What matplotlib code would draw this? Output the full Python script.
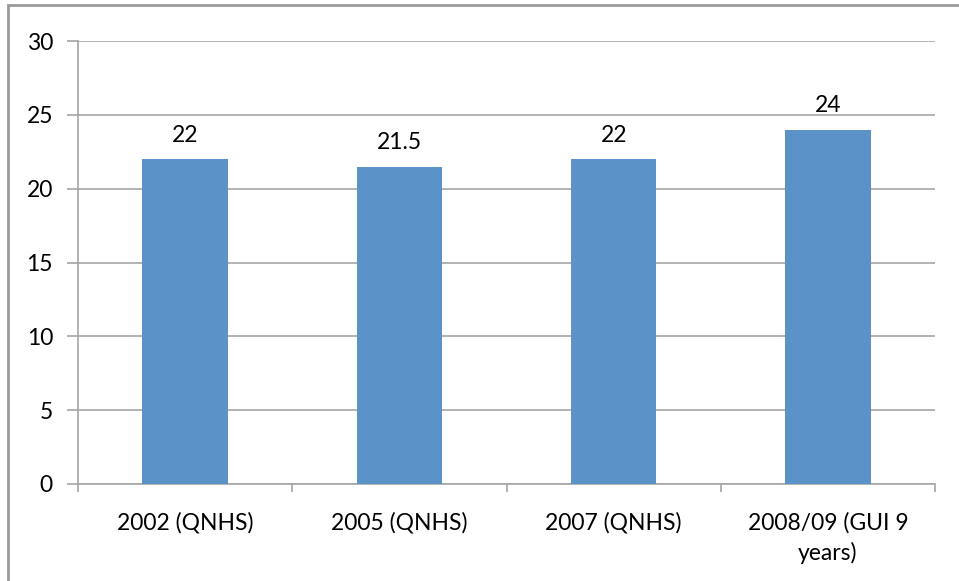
import numpy as np
import matplotlib.pyplot as plt
from matplotlib.patches import Rectangle

categories = ['2002 (QNHS)', '2005 (QNHS)', '2007 (QNHS)', '2008/09 (GUI 9\nyears)']
values = [22, 21.5, 22, 24]
value_labels = ['22', '21.5', '22', '24']
y_ticks = [0, 5, 10, 15, 20, 25, 30]

plt.rcParams['font.family'] = ['Lato', 'DejaVu Sans']
fs = 16.5

fig = plt.figure(figsize=(9.59, 5.81), dpi=100)
ax = fig.add_axes([78 / 959, 1 - 484 / 581, (935 - 78) / 959, (484 - 41) / 581])

# outer chart frame (only left and top edges fall inside the image)
fig.patches.append(Rectangle((8 / 959, -0.1), 1.2, 1 - 5 / 581 + 0.1,
                             transform=fig.transFigure, fill=False,
                             edgecolor='#9a9a9a', linewidth=2))

grid_color = '#a6a6a6'
x = np.arange(len(categories))
ax.bar(x, values, width=0.4, color='#5b93c8', zorder=3)

for xi, v, lab in zip(x, values, value_labels):
    ax.annotate(lab, (xi, v), xytext=(0, 9.5), textcoords='offset points',
                ha='center', va='bottom', fontsize=fs, color='black')

ax.set_xlim(-0.5, len(categories) - 0.5)
ax.set_ylim(0, 30)
ax.set_yticks(y_ticks)
ax.set_yticklabels([str(t) for t in y_ticks], fontsize=fs)
ax.yaxis.grid(True, color=grid_color, linewidth=1.2, zorder=0)

# category labels centred, tick marks between categories
ax.set_xticks(x)
ax.set_xticklabels(categories, fontsize=fs, linespacing=1.45)
ax.tick_params(axis='x', length=0, pad=20)
ax.set_xticks(np.arange(len(categories) + 1) - 0.5, minor=True)
ax.tick_params(axis='x', which='minor', length=6, color=grid_color, width=1.2)
ax.tick_params(axis='y', length=8, color=grid_color, width=1.2, pad=10)

for side in ['top', 'right']:
    ax.spines[side].set_visible(False)
for side in ['left', 'bottom']:
    ax.spines[side].set_color(grid_color)
    ax.spines[side].set_linewidth(1.2)

fig.savefig('out.png', dpi=100)
